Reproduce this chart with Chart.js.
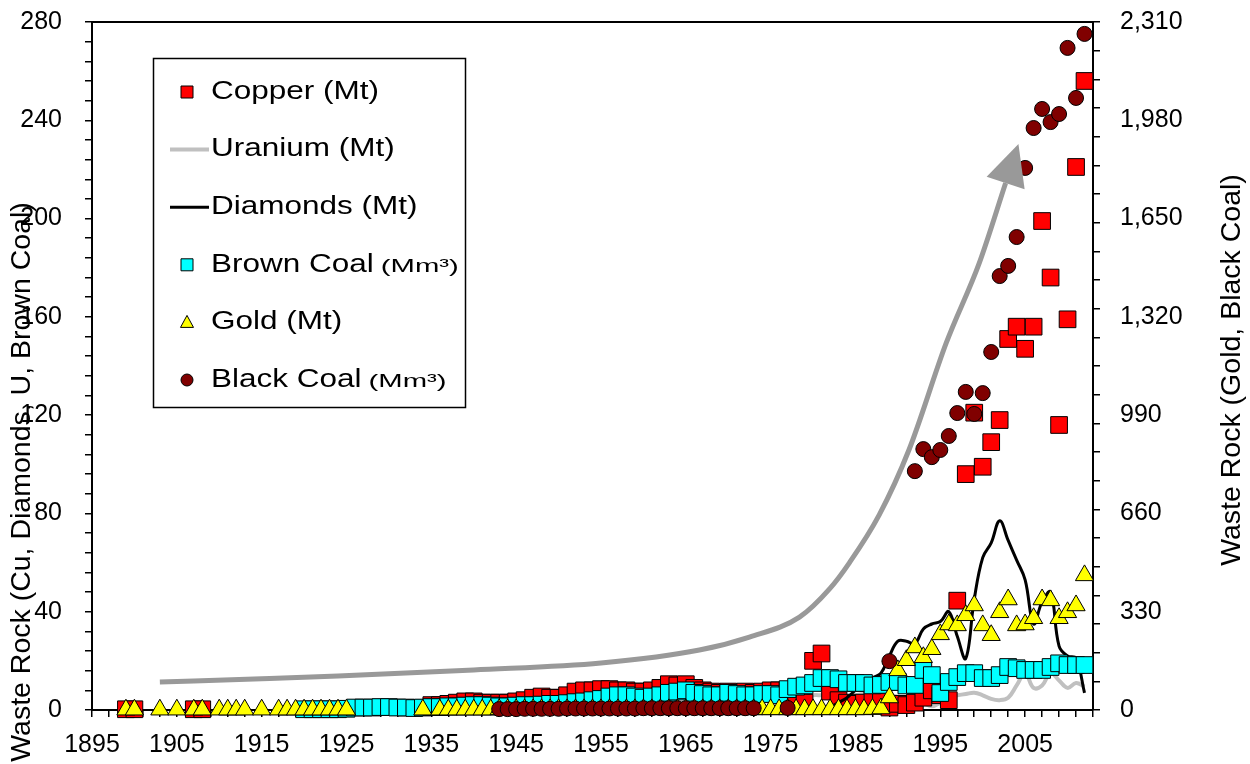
<!DOCTYPE html>
<html>
<head>
<meta charset="utf-8">
<script src="https://cdn.jsdelivr.net/npm/chart.js@4.4.0/dist/chart.umd.min.js"></script>
<style>
html, body { margin: 0; padding: 0; background: #fff; }
#wrap { width: 1250px; height: 764px; }
</style>
</head>
<body>
<div id="wrap"><canvas id="myChart" width="1250" height="764"></canvas></div>
<script>
// waste rock by year (left axis: Mt / Mm3, right axis: gold + black coal)
const copperYears = [1899, 1900, 1907, 1908,
  1935, 1936, 1937, 1938, 1939, 1940, 1941, 1942, 1943, 1944,
  1945, 1946, 1947, 1948, 1949, 1950, 1951, 1952, 1953, 1954,
  1955, 1956, 1957, 1958, 1959, 1960, 1961, 1962, 1963, 1964,
  1965, 1966, 1967, 1968, 1969, 1970, 1971, 1972, 1973, 1974,
  1975, 1976, 1977, 1978, 1979, 1980, 1981, 1982, 1983, 1984,
  1985, 1986, 1987, 1988, 1989, 1990, 1991, 1992, 1993, 1994,
  1995, 1996, 1997, 1998, 1999, 2000, 2001, 2002, 2003, 2004,
  2005, 2006, 2007, 2008, 2009, 2010, 2011, 2012];
const copper = [0.3, 0.3, 0.3, 0.3,
  2, 2, 2.5, 3, 3.5, 3.5, 3, 3, 3, 3,
  3.5, 4, 5, 5.5, 5, 5, 6, 7.5, 8, 8,
  8.5, 8.5, 8, 8, 7.5, 7.5, 8, 9, 10.5, 10,
  10.5, 9, 8, 7.5, 7, 7.5, 7, 7.5, 7, 7.5,
  8, 8, 8, 3, 3, 20, 23, 7.5, 4, 3,
  2.5, 3, 4, 3.5, 1, 2.5, 2, 3, 5, 8,
  6, 4, 44.5, 96, 121, 99, 109, 118, 151, 156,
  147, 156, 199, 176, 116, 159, 221, 256];

const uraniumYears = [1977, 1978, 1979, 1980, 1981, 1982, 1983, 1984, 1985, 1986, 1987, 1988,
  1989, 1990, 1991, 1992, 1993, 1994, 1995, 1996, 1997, 1998, 1999, 2000,
  2001, 2002, 2003, 2004, 2005, 2006, 2007, 2008, 2009, 2010, 2011, 2012];
const uranium = [3, 4, 5, 6, 6, 6, 5.5, 5.5, 6, 6.5, 6.5, 6.5,
  6, 5.5, 4.5, 4, 3, 1.5, 3, 5.5, 6, 6.5, 7, 6,
  4.5, 4, 5, 10, 15, 9, 10, 15, 12, 9, 11, 9.5];

const diamondYears = [1982, 1983, 1984, 1985, 1986, 1987, 1988, 1989, 1990, 1991, 1992,
  1993, 1994, 1995, 1996, 1997, 1998, 1999, 2000, 2001, 2002, 2003,
  2004, 2005, 2006, 2007, 2008, 2009, 2010, 2011, 2012];
const diamonds = [1, 3, 5, 8, 10, 13, 15, 22, 28, 28, 27,
  33, 35, 36, 40, 30, 21, 45, 62, 68, 77, 69,
  61, 53, 35, 44, 48, 26, 22, 21, 7];

const brownCoalYears = [1920, 1921, 1922, 1923, 1924, 1925, 1926, 1927, 1928, 1929,
  1930, 1931, 1932, 1933, 1934, 1935, 1936, 1937, 1938, 1939,
  1940, 1941, 1942, 1943, 1944, 1945, 1946, 1947, 1948, 1949,
  1950, 1951, 1952, 1953, 1954, 1955, 1956, 1957, 1958, 1959,
  1960, 1961, 1962, 1963, 1964, 1965, 1966, 1967, 1968, 1969,
  1970, 1971, 1972, 1973, 1974, 1975, 1976, 1977, 1978, 1979,
  1980, 1981, 1982, 1983, 1984, 1985, 1986, 1987, 1988, 1989,
  1990, 1991, 1992, 1993, 1994, 1995, 1996, 1997, 1998, 1999,
  2000, 2001, 2002, 2003, 2004, 2005, 2006, 2007, 2008, 2009,
  2010, 2011, 2012];
const brownCoal = [0.3, 0.3, 0.3, 0.3, 0.3, 0.5, 1, 1, 1, 1.2,
  1.2, 1, 1, 0.8, 1, 1.2, 1.2, 1.5, 1.5, 1.8,
  2, 2, 1.8, 1.5, 1.5, 1.8, 2, 2, 2.2, 2.5,
  2.5, 2.8, 3.2, 3.5, 4, 4.5, 5.5, 6, 6, 5.5,
  5, 5.5, 6, 7, 7.5, 8, 7, 6.5, 6, 6,
  7, 6.5, 6, 6, 6.5, 6.5, 6, 8.5, 9.5, 10,
  11, 13, 13, 12.5, 11, 11, 11, 10, 10.2, 11.4,
  11.4, 10, 10.2, 16.3, 14.2, 6.9, 11.4, 13.4, 15, 15,
  13, 13, 14.2, 17.5, 17, 16.3, 16.3, 16.3, 17.5, 19,
  18.3, 18.3, 18.3];

const goldYears = [1899, 1900, 1903, 1905, 1907, 1908, 1910, 1911, 1912, 1913,
  1915, 1917, 1918, 1919, 1920, 1921, 1922, 1923, 1924, 1925,
  1934, 1936, 1937, 1938, 1939, 1940, 1941, 1942, 1943, 1944,
  1945, 1946, 1947, 1948, 1949, 1950, 1951, 1952, 1953, 1954,
  1955, 1956, 1957, 1958, 1959, 1960, 1961, 1962, 1963, 1964,
  1965, 1966, 1967, 1968, 1969, 1970, 1971, 1972, 1973, 1974,
  1975, 1976, 1977, 1978, 1979, 1980, 1981, 1982, 1983, 1984,
  1985, 1986, 1987, 1988, 1989, 1990, 1991, 1992, 1993, 1994,
  1995, 1996, 1997, 1998, 1999, 2000, 2001, 2002, 2003, 2004,
  2005, 2006, 2007, 2008, 2009, 2010, 2011, 2012];
const gold = [1, 1, 1, 1, 1, 1, 1, 1, 1, 1,
  1, 1, 1, 1, 1, 1, 1, 1, 1, 1,
  1, 1, 1, 1, 1, 1, 1, 1, 2, 2,
  2, 2, 2, 2, 2, 2, 2, 2, 2, 2,
  2, 2, 2, 2, 2, 2, 2, 2, 2, 2,
  2, 2, 2, 2, 2, 2, 2, 2, 2, 2,
  2, 2, 2, 2, 2, 2, 2, 2, 2, 2,
  2, 2, 3, 5, 42, 133, 167, 210, 177, 204,
  254, 287, 284, 318, 351, 284, 251, 328, 371, 284,
  287, 308, 371, 368, 308, 328, 351, 452];

const blackCoalYears = [1943, 1944, 1945, 1946, 1947, 1948, 1949, 1950, 1951, 1952,
  1953, 1954, 1955, 1956, 1957, 1958, 1959, 1960, 1961, 1962,
  1963, 1964, 1965, 1966, 1967, 1968, 1969, 1970, 1971, 1972,
  1973, 1977, 1989, 1992, 1993, 1994, 1995, 1996, 1997, 1998,
  1999, 2000, 2001, 2002, 2003, 2004, 2005, 2006, 2007, 2008,
  2009, 2010, 2011, 2012];
const blackCoal = [3, 3, 3, 4, 4, 4, 4, 4, 5, 5,
  5, 5, 5, 5, 5, 5, 5, 6, 6, 6,
  6, 6, 6, 6, 6, 6, 6, 6, 6, 6,
  6, 7, 164, 802, 876, 849, 873, 920, 997, 1068,
  994, 1064, 1202, 1457, 1491, 1588, 1820, 1954, 2018, 1974,
  2001, 2223, 2055, 2270];

// hand drawn growth arrow (left axis units)
const trendYears = [1903, 1915, 1924, 1940, 1955, 1966.6, 1972.5, 1978.4, 1982, 1984.3, 1987.8, 1991.3, 1995.7, 1999.6, 2002.7];
const trendValues = [11.4, 12.7, 13.8, 16.3, 19.1, 24.4, 29.7, 37.8, 49.5, 60, 79.4, 105.8, 149.4, 182, 214.5];

const legendNames = ['Copper (Mt)', 'Uranium (Mt)', 'Diamonds (Mt)', 'Brown Coal', 'Gold (Mt)', 'Black Coal'];
const legendUnits = ['', '', '', '(Mm\u00B3)', '', '(Mm\u00B3)'];
const leftTitle = 'Waste Rock (Cu, Diamonds, U, Brown Coal)';
const rightTitle = 'Waste Rock (Gold, Black Coal)';

const FONT = '"Liberation Sans", Arial, sans-serif';

function pts(xs, ys) {
  return xs.map((x, i) => ({ x: x, y: ys[i] }));
}

function isLabel(v, step) {
  return Math.abs(v / step - Math.round(v / step)) < 1e-6;
}

// fixed axis sizes, no extra label padding
function fixBox(w, h) {
  return (s) => {
    if (w) s.width = w;
    if (h) s.height = h;
    s.paddingTop = 0;
    s.paddingBottom = 0;
    s.paddingLeft = 0;
    s.paddingRight = 0;
  };
}

const frame = {
  id: 'frame',
  beforeDatasetsDraw(chart) {
    const c = chart.ctx, a = chart.chartArea;
    c.save();
    c.strokeStyle = '#000';
    c.lineWidth = 2;
    c.beginPath();
    c.moveTo(a.left, a.top);
    c.lineTo(a.right, a.top);
    c.stroke();
    c.restore();
  },
  afterDatasetsDraw(chart) {
    const c = chart.ctx;
    // arrow head on the trend curve
    const meta = chart.getDatasetMeta(6);
    const p = meta.data;
    const end = p[p.length - 1], before = p[p.length - 2];
    let dx = end.x - before.x, dy = end.y - before.y;
    const len = Math.sqrt(dx * dx + dy * dy);
    dx /= len; dy /= len;
    c.save();
    c.fillStyle = '#999999';
    c.beginPath();
    c.moveTo(end.x + dx * 41, end.y + dy * 41);
    c.lineTo(end.x - dy * 20, end.y + dx * 20);
    c.lineTo(end.x + dy * 20, end.y - dx * 20);
    c.closePath();
    c.fill();

    // legend box
    c.fillStyle = '#fff';
    c.fillRect(153, 58, 313, 350);
    c.strokeStyle = '#000';
    c.lineWidth = 1.5;
    c.strokeRect(153.5, 58.5, 312, 349);
    const ds = chart.data.datasets;
    for (let i = 0; i < legendNames.length; i++) {
      const y = 92 + i * 57.6;
      const d = ds[i];
      c.lineWidth = 1;
      c.strokeStyle = '#000';
      if (d.pointRadius === 0) {
        c.strokeStyle = d.borderColor;
        c.lineWidth = d.borderWidth;
        c.beginPath();
        c.moveTo(170, y);
        c.lineTo(209, y);
        c.stroke();
      } else {
        c.fillStyle = d.backgroundColor;
        c.beginPath();
        if (d.pointStyle === 'rect') {
          c.rect(181, y - 6, 12, 12);
        } else if (d.pointStyle === 'triangle') {
          c.moveTo(187, y - 7);
          c.lineTo(193.5, y + 5);
          c.lineTo(180.5, y + 5);
          c.closePath();
        } else {
          c.arc(187, y, 6, 0, Math.PI * 2);
        }
        c.fill();
        c.stroke();
      }
      c.fillStyle = '#000';
      c.textBaseline = 'middle';
      c.textAlign = 'left';
      c.font = '25px ' + FONT;
      const w = c.measureText(legendNames[i]).width * 1.26;
      c.save();
      c.translate(211, y);
      c.scale(1.26, 1);
      c.fillText(legendNames[i], 0, 0);
      c.restore();
      if (legendUnits[i]) {
        c.font = '19px ' + FONT;
        const uw = c.measureText(legendUnits[i]).width;
        c.save();
        c.translate(211 + w + 7, y + 2);
        c.scale(78 / uw, 1);
        c.fillText(legendUnits[i], 0, 0);
        c.restore();
      }
    }
    c.restore();
  },
  afterDraw(chart) {
    const c = chart.ctx;
    c.save();
    c.fillStyle = '#000';
    c.font = '28.5px ' + FONT;
    c.textAlign = 'center';
    c.textBaseline = 'middle';
    c.translate(22, 482);
    c.rotate(-Math.PI / 2);
    c.fillText(leftTitle, 0, 0);
    c.restore();
    c.save();
    c.fillStyle = '#000';
    c.font = '28.5px ' + FONT;
    c.textAlign = 'center';
    c.textBaseline = 'middle';
    c.translate(1232, 370);
    c.rotate(-Math.PI / 2);
    c.fillText(rightTitle, 0, 0);
    c.restore();
  }
};

const ctx = document.getElementById('myChart').getContext("2d");

let myChart = new Chart(ctx, {
  type: 'line',
  data: {
    datasets: [
      { label: 'Copper (Mt)', data: pts(copperYears, copper), yAxisID: 'y', showLine: false,
        pointStyle: 'rect', pointRadius: 11.8, backgroundColor: '#ff0000', borderColor: '#000000',
        pointBorderWidth: 1, borderWidth: 1, order: 5, clip: false },
      { label: 'Uranium (Mt)', data: pts(uraniumYears, uranium), yAxisID: 'y',
        borderColor: '#c0c0c0', borderWidth: 4, pointRadius: 0, tension: 0.4, order: 6, fill: false },
      { label: 'Diamonds (Mt)', data: pts(diamondYears, diamonds), yAxisID: 'y',
        borderColor: '#000000', borderWidth: 3, pointRadius: 0, tension: 0.4, order: 4, fill: false },
      { label: 'Brown Coal', data: pts(brownCoalYears, brownCoal), yAxisID: 'y', showLine: false,
        pointStyle: 'rect', pointRadius: 11.8, backgroundColor: '#00ffff', borderColor: '#000000',
        pointBorderWidth: 1, borderWidth: 1, order: 3, clip: false },
      { label: 'Gold (Mt)', data: pts(goldYears, gold), yAxisID: 'y2', showLine: false,
        pointStyle: 'triangle', pointRadius: 10.5, backgroundColor: '#ffff00', borderColor: '#000000',
        pointBorderWidth: 1, borderWidth: 1, order: 2, clip: false },
      { label: 'Black Coal', data: pts(blackCoalYears, blackCoal), yAxisID: 'y2', showLine: false,
        pointStyle: 'circle', pointRadius: 7.5, backgroundColor: '#800000', borderColor: '#000000',
        pointBorderWidth: 1, borderWidth: 1, order: 1, clip: false },
      { label: 'trend', data: pts(trendYears, trendValues), yAxisID: 'y',
        borderColor: '#999999', borderWidth: 5, pointRadius: 0, cubicInterpolationMode: 'monotone',
        order: 0, fill: false }
    ]
  },
  options: {
    responsive: false,
    animation: false,
    devicePixelRatio: 1,
    layout: { padding: { top: 22, left: 0, right: 0, bottom: 0 } },
    plugins: { legend: { display: false }, tooltip: { enabled: false } },
    scales: {
      x: {
        type: 'linear', min: 1895, max: 2013, position: 'bottom',
        afterBuildTicks: (s) => {
          const t = [];
          for (let v = 1895; v <= 2013; v += 2) t.push({ value: v });
          s.ticks = t;
        },
        afterFit: fixBox(0, 54),
        ticks: {
          autoSkip: false, maxRotation: 0, color: '#000', padding: 13,
          font: { family: FONT, size: 25 },
          callback: (v) => (isLabel(v - 1895, 10) ? String(v) : '')
        },
        grid: { drawOnChartArea: false, tickLength: 7, color: '#000', lineWidth: 1.5 },
        border: { color: '#000', width: 2 }
      },
      y: {
        type: 'linear', min: 0, max: 280, position: 'left',
        afterBuildTicks: (s) => {
          const t = [];
          for (let v = 0; v <= 280; v += 8) t.push({ value: v });
          s.ticks = t;
        },
        afterFit: fixBox(92, 0),
        ticks: {
          autoSkip: false, color: '#000', padding: 23,
          font: { family: FONT, size: 25 },
          callback: (v) => (isLabel(v, 40) ? String(v) : '')
        },
        grid: { drawOnChartArea: false, tickLength: 7, color: '#000', lineWidth: 1.5 },
        border: { color: '#000', width: 2 }
      },
      y2: {
        type: 'linear', min: 0, max: 2310, position: 'right',
        afterBuildTicks: (s) => {
          const t = [];
          for (let i = 0; i <= 24; i++) t.push(i * 96.25);
          for (let k = 1; k < 7; k++) t.push(k * 330);
          t.sort((a, b) => a - b);
          s.ticks = t.map((v) => ({ value: v }));
        },
        afterFit: fixBox(157, 0),
        ticks: {
          autoSkip: false, color: '#000', padding: 20,
          font: { family: FONT, size: 25 },
          callback: (v) => (isLabel(v, 330) ? v.toLocaleString('en-US') : '')
        },
        grid: {
          drawOnChartArea: false, tickLength: 7, lineWidth: 1.5,
          color: (c) => (c.tick && isLabel(c.tick.value, 96.25) ? '#000' : 'rgba(0,0,0,0)')
        },
        border: { color: '#000', width: 2 }
      }
    }
  },
  plugins: [frame]
});
</script>
</body>
</html>
